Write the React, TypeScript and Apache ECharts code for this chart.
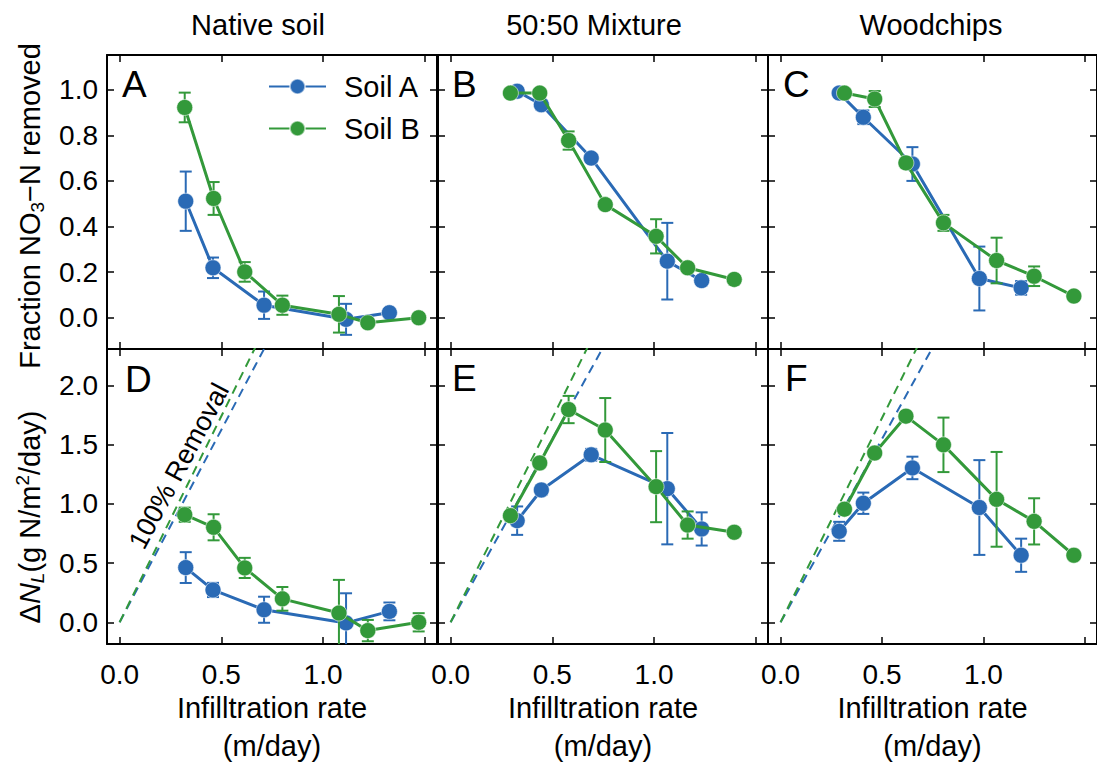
import React, { useEffect, useRef } from "react";
import * as echarts from "echarts";

const BLUE = "#2A6AB5";
const GREEN = "#33993A";
const FONT = '"Liberation Sans", Arial, Helvetica, sans-serif';

// ---------- data ----------
const columnTitles = ["Native soil", "50:50 Mixture", "Woodchips"];
const panelLetters = ["A", "B", "C", "D", "E", "F"];
const xTickLabels = ["0.0", "0.5", "1.0"];

// Native soil
const nativeRateA = [0.325, 0.459, 0.71, 1.113, 1.326];
const nativeFracA = [0.511, 0.219, 0.055, -0.007, 0.022];
const nativeFracErrA = [0.13, 0.045, 0.06, 0.068, 0.012];
const nativeLoadA = [0.462, 0.273, 0.106, -0.005, 0.092];
const nativeLoadErrA = [0.13, 0.06, 0.11, 0.25, 0.075];
const nativeRateB = [0.32, 0.462, 0.615, 0.8, 1.078, 1.22, 1.47];
const nativeFracB = [0.922, 0.523, 0.201, 0.055, 0.015, -0.022, 0.0];
const nativeFracErrB = [0.065, 0.072, 0.043, 0.042, 0.08, 0.01, 0.01];
const nativeLoadB = [0.908, 0.802, 0.459, 0.198, 0.078, -0.07, 0.0];
const nativeLoadErrB = [0.06, 0.11, 0.085, 0.1, 0.28, 0.09, 0.077];
const nativeRemovalA = [[0, 0], [0.8, 2.6]];
const nativeRemovalB = [[0, 0], [0.75, 2.61]];

// 50:50 Mixture
const mixRateA = [0.327, 0.446, 0.691, 1.065, 1.234];
const mixFracA = [0.993, 0.934, 0.7, 0.248, 0.163];
const mixFracErrA = [0.01, 0.02, 0.015, 0.168, 0.02];
const mixLoadA = [0.858, 1.117, 1.414, 1.128, 0.788];
const mixLoadErrA = [0.12, 0.04, 0.05, 0.47, 0.14];
const mixRateB = [0.294, 0.438, 0.58, 0.76, 1.01, 1.165, 1.394];
const mixFracB = [0.985, 0.985, 0.777, 0.496, 0.357, 0.219, 0.168];
const mixFracErrB = [0.01, 0.01, 0.04, 0.01, 0.075, 0.01, 0.01];
const mixLoadB = [0.9, 1.345, 1.796, 1.623, 1.145, 0.821, 0.76];
const mixLoadErrB = [0.03, 0.03, 0.115, 0.27, 0.3, 0.115, 0.02];
const mixRemovalA = [[0, 0], [0.84, 2.6]];
const mixRemovalB = [[0, 0], [0.754, 2.6]];

// Woodchips
const woodRateA = [0.289, 0.408, 0.65, 0.98, 1.186];
const woodFracA = [0.985, 0.879, 0.674, 0.172, 0.131];
const woodFracErrA = [0.01, 0.03, 0.074, 0.14, 0.03];
const woodLoadA = [0.768, 1.005, 1.303, 0.969, 0.566];
const woodLoadErrA = [0.08, 0.09, 0.095, 0.4, 0.14];
const woodRateB = [0.315, 0.464, 0.618, 0.803, 1.065, 1.25, 1.446];
const woodFracB = [0.985, 0.959, 0.679, 0.416, 0.251, 0.182, 0.095];
const woodFracErrB = [0.01, 0.035, 0.02, 0.035, 0.1, 0.043, 0.01];
const woodLoadB = [0.955, 1.429, 1.74, 1.498, 1.038, 0.852, 0.566];
const woodLoadErrB = [0.03, 0.03, 0.03, 0.23, 0.4, 0.195, 0.02];
const woodRemovalA = [[0, 0], [0.84, 2.6]];
const woodRemovalB = [[0, 0], [0.754, 2.6]];

const X_MIN = -0.062;
const X_MAX = 1.56;
const Y_TOP_MIN = -0.137;
const Y_TOP_MAX = 1.152;
const Y_BOT_MIN = -0.184;
const Y_BOT_MAX = 2.307;

// ---------- layout ----------
const GRID_LEFTS = [107, 438, 768];
const GRID_W = 330;
const TOP_Y = 55;
const TOP_H = 294;
const BOT_Y = 349;
const BOT_H = 299;

const cols = [
  {
    rateA: nativeRateA, fracA: nativeFracA, fracErrA: nativeFracErrA, loadA: nativeLoadA, loadErrA: nativeLoadErrA,
    rateB: nativeRateB, fracB: nativeFracB, fracErrB: nativeFracErrB, loadB: nativeLoadB, loadErrB: nativeLoadErrB,
    remA: nativeRemovalA, remB: nativeRemovalB,
  },
  {
    rateA: mixRateA, fracA: mixFracA, fracErrA: mixFracErrA, loadA: mixLoadA, loadErrA: mixLoadErrA,
    rateB: mixRateB, fracB: mixFracB, fracErrB: mixFracErrB, loadB: mixLoadB, loadErrB: mixLoadErrB,
    remA: mixRemovalA, remB: mixRemovalB,
  },
  {
    rateA: woodRateA, fracA: woodFracA, fracErrA: woodFracErrA, loadA: woodLoadA, loadErrA: woodLoadErrA,
    rateB: woodRateB, fracB: woodFracB, fracErrB: woodFracErrB, loadB: woodLoadB, loadErrB: woodLoadErrB,
    remA: woodRemovalA, remB: woodRemovalB,
  },
];

function stepFormatter(step: number) {
  return (v: number) => {
    const r = Math.round(v / step) * step;
    if (Math.abs(v - r) > 1e-6) return "";
    return (Math.abs(r) < 1e-9 ? 0 : r).toFixed(1);
  };
}

const xFmt = (v: number) => {
  const r = Math.round(v * 2) / 2;
  if (Math.abs(v - r) > 1e-6) return "";
  const s = (Math.abs(r) < 1e-9 ? 0 : r).toFixed(1);
  return xTickLabels.indexOf(s) >= 0 ? s : "";
};

const tickStyle = { show: true, inside: true, length: 7, lineStyle: { color: "#000", width: 1.5 } };
const lineStyleAxis = { show: true, onZero: false, lineStyle: { color: "#000", width: 2 } };

function renderErr(color: string) {
  return (params: any, api: any) => {
    const x = api.value(0);
    const y = api.value(1);
    const e = api.value(2);
    const cs = params.coordSys;
    const top = api.coord([x, y + e]);
    const bot = api.coord([x, y - e]);
    const ymin = cs.y;
    const ymax = cs.y + cs.height;
    const ty = Math.max(top[1], ymin);
    const by = Math.min(bot[1], ymax);
    const cx = top[0];
    const st = { stroke: color, lineWidth: 2 };
    const children: any[] = [
      { type: "line", shape: { x1: cx, y1: ty, x2: cx, y2: by }, style: st },
    ];
    if (top[1] >= ymin) children.push({ type: "line", shape: { x1: cx - 6, y1: top[1], x2: cx + 6, y2: top[1] }, style: st });
    if (bot[1] <= ymax) children.push({ type: "line", shape: { x1: cx - 6, y1: bot[1], x2: cx + 6, y2: bot[1] }, style: st });
    return { type: "group", children };
  };
}

function buildOption() {
  const grid: any[] = [];
  const xAxis: any[] = [];
  const yAxis: any[] = [];
  const series: any[] = [];

  for (let row = 0; row < 2; row++) {
    for (let c = 0; c < 3; c++) {
      const gi = row * 3 + c;
      grid.push({
        left: GRID_LEFTS[c],
        top: row === 0 ? TOP_Y : BOT_Y,
        width: GRID_W,
        height: row === 0 ? TOP_H : BOT_H,
        containLabel: false,
      });
      const xBase = {
        type: "value",
        gridIndex: gi,
        min: X_MIN,
        max: X_MAX,
        splitNumber: 3,
        splitLine: { show: false },
        axisLine: lineStyleAxis,
        axisTick: tickStyle,
      };
      xAxis.push({
        ...xBase,
        position: "bottom",
        axisLabel: {
          show: row === 1,
          formatter: xFmt,
          fontSize: 28,
          color: "#000",
          fontFamily: FONT,
          margin: 16,
          showMinLabel: false,
          showMaxLabel: false,
        },
        name: row === 1 ? "Infilltration rate\n(m/day)" : "",
        nameLocation: "middle",
        nameGap: 42,
        nameTextStyle: { fontSize: 29, lineHeight: 38, color: "#000", fontFamily: FONT },
      });
      xAxis.push({ ...xBase, position: "top", axisLabel: { show: false } });

      const yBase = {
        type: "value",
        gridIndex: gi,
        min: row === 0 ? Y_TOP_MIN : Y_BOT_MIN,
        max: row === 0 ? Y_TOP_MAX : Y_BOT_MAX,
        splitNumber: row === 0 ? 6 : 5,
        splitLine: { show: false },
        axisLine: lineStyleAxis,
        axisTick: tickStyle,
      };
      yAxis.push({
        ...yBase,
        position: "left",
        axisLabel: {
          show: c === 0,
          formatter: stepFormatter(row === 0 ? 0.2 : 0.5),
          fontSize: 28,
          color: "#000",
          fontFamily: FONT,
          margin: 9,
          showMinLabel: false,
          showMaxLabel: false,
        },
      });
      yAxis.push({ ...yBase, position: "right", axisLabel: { show: false } });

      const d = cols[c];
      const xi = gi * 2;
      const yi = gi * 2;
      const valsA = row === 0 ? d.fracA : d.loadA;
      const errA = row === 0 ? d.fracErrA : d.loadErrA;
      const valsB = row === 0 ? d.fracB : d.loadB;
      const errB = row === 0 ? d.fracErrB : d.loadErrB;

      if (row === 1) {
        series.push({
          type: "line", name: "removal-A", xAxisIndex: xi, yAxisIndex: yi,
          data: d.remA, symbol: "none", silent: true, z: 1, clip: true,
          lineStyle: { color: BLUE, width: 2, type: [9, 6] },
        });
        series.push({
          type: "line", name: "removal-B", xAxisIndex: xi, yAxisIndex: yi,
          data: d.remB, symbol: "none", silent: true, z: 1, clip: true,
          lineStyle: { color: GREEN, width: 2, type: [9, 6] },
        });
      }

      series.push({
        type: "custom", name: "err-A", xAxisIndex: xi, yAxisIndex: yi, z: 2, silent: true,
        renderItem: renderErr(BLUE),
        encode: { x: 0, y: 1 },
        data: d.rateA.map((r, i) => [r, valsA[i], errA[i]]),
      });
      series.push({
        type: "line", name: "Soil A", xAxisIndex: xi, yAxisIndex: yi, z: 3,
        data: d.rateA.map((r, i) => [r, valsA[i]]),
        symbol: "circle", symbolSize: 16, showSymbol: true,
        lineStyle: { color: BLUE, width: 3 },
        itemStyle: { color: BLUE, borderColor: "rgba(255,255,255,0.55)", borderWidth: 1 },
      });
      series.push({
        type: "custom", name: "err-B", xAxisIndex: xi, yAxisIndex: yi, z: 4, silent: true,
        renderItem: renderErr(GREEN),
        encode: { x: 0, y: 1 },
        data: d.rateB.map((r, i) => [r, valsB[i], errB[i]]),
      });
      series.push({
        type: "line", name: "Soil B", xAxisIndex: xi, yAxisIndex: yi, z: 5,
        data: d.rateB.map((r, i) => [r, valsB[i]]),
        symbol: "circle", symbolSize: 16, showSymbol: true,
        lineStyle: { color: GREEN, width: 3 },
        itemStyle: { color: GREEN, borderColor: "rgba(255,255,255,0.55)", borderWidth: 1 },
      });
    }
  }

  const txt = (text: string, x: number, y: number, size: number, extra: any = {}) => ({
    type: "text",
    x,
    y,
    ...extra,
    style: {
      text,
      fill: "#000",
      fontSize: size,
      fontFamily: FONT,
      align: extra.align || "center",
      textAlign: extra.align || "center",
      verticalAlign: "middle",
      textVerticalAlign: "middle",
    },
  });

  const titleX = [258, 594, 931];
  const letterPos = [
    [122, 84], [452, 84], [783, 84],
    [125, 379], [452, 378], [785, 378],
  ];

  const rich = {
    n: { fontSize: 29, fontFamily: FONT, fill: "#000", color: "#000", lineHeight: 34 },
    it: { fontSize: 29, fontFamily: FONT, fill: "#000", color: "#000", fontStyle: "italic", lineHeight: 34 },
    sub: { fontSize: 19, fontFamily: FONT, fill: "#000", color: "#000", verticalAlign: "bottom" },
    subit: { fontSize: 19, fontFamily: FONT, fill: "#000", color: "#000", fontStyle: "italic", verticalAlign: "bottom" },
    sup: { fontSize: 19, fontFamily: FONT, fill: "#000", color: "#000", verticalAlign: "top" },
  };

  const graphic: any[] = [
    ...columnTitles.map((t, i) => txt(t, titleX[i], 25, 29)),
    ...panelLetters.map((t, i) => txt(t, letterPos[i][0], letterPos[i][1], 37, { align: "left" })),
    txt("100% Removal", 179, 466, 27, { rotation: (62 * Math.PI) / 180 }),
    {
      type: "text",
      x: 30,
      y: 206,
      rotation: Math.PI / 2,
      style: {
        text: "{n|Fraction NO}{sub|3}{n|\u2212N removed}",
        rich,
        fontSize: 29,
        fontFamily: FONT,
        fill: "#000",
        align: "center",
        textAlign: "center",
        verticalAlign: "middle",
        textVerticalAlign: "middle",
      },
    },
    {
      type: "text",
      x: 30,
      y: 517,
      rotation: Math.PI / 2,
      style: {
        text: "{n|\u0394}{it|N}{subit|L}{n|(g N/m}{sup|2}{n|/day)}",
        rich,
        fontSize: 29,
        fontFamily: FONT,
        fill: "#000",
        align: "center",
        textAlign: "center",
        verticalAlign: "middle",
        textVerticalAlign: "middle",
      },
    },
  ];

  return {
    animation: false,
    backgroundColor: "#fff",
    textStyle: { fontFamily: FONT },
    grid,
    xAxis,
    yAxis,
    series,
    graphic,
    legend: {
      data: ["Soil A", "Soil B"],
      orient: "vertical",
      left: 263,
      top: 67,
      itemWidth: 57,
      itemHeight: 19,
      itemGap: 13,
      selectedMode: false,
      textStyle: { fontSize: 29, color: "#000", fontFamily: FONT, padding: [0, 0, 0, 13] },
    },
  };
}

export default function App() {
  const ref = useRef<HTMLDivElement>(null);
  useEffect(() => {
    if (!ref.current) return;
    const chart = echarts.init(ref.current, undefined, { renderer: "svg" });
    chart.setOption(buildOption() as any);
    return () => chart.dispose();
  }, []);
  return (
    <div
      ref={ref}
      style={{ position: "absolute", left: 0, top: 0, width: 1097, height: 766, background: "#fff" }}
    />
  );
}
